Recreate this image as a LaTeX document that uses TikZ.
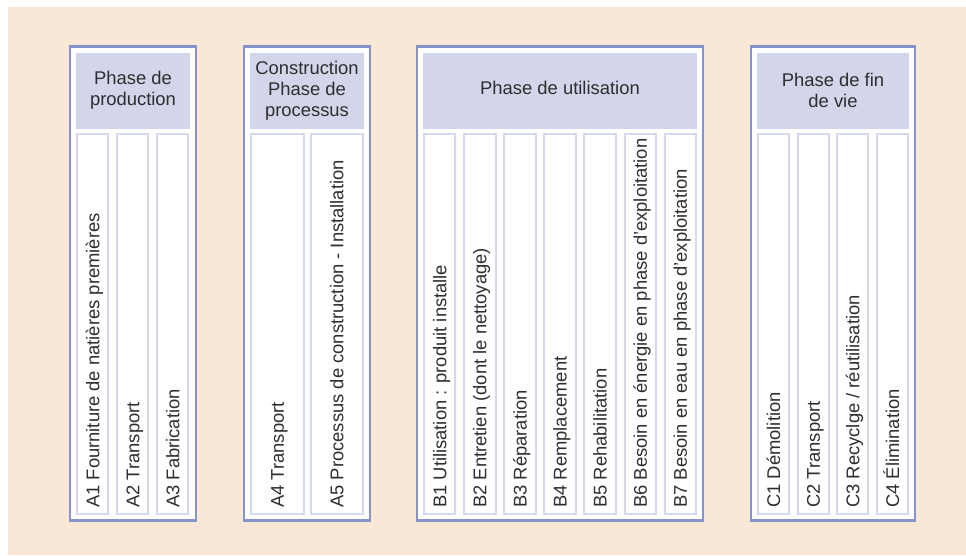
\documentclass[tikz,border=0pt]{standalone}
\usepackage{fontspec}
\setmainfont{Liberation Sans}

\definecolor{bgpeach}{HTML}{FAE8D7}
\definecolor{frameblue}{HTML}{8893C9}
\definecolor{headlav}{HTML}{D3D6EA}
\definecolor{collav}{HTML}{D6D9EE}
\definecolor{inkgray}{HTML}{2E2E2E}

% one white column with a rotated label: name, centre x, width, label
\newcommand{\stagecol}[4]{%
  \node[colbox, minimum width={#3pt-2pt}] (#1) at (#2,323.7) {};
  \node[coltext] (#1-t) at ([xshift=6.6pt,yshift=6.7pt]#1.south) {#4};%
}

\begin{document}
\begin{tikzpicture}[x=1pt,y=-1pt,
  phaseframe/.style={draw=frameblue, line width=2.5pt, fill=white,
    minimum height=474pt, inner sep=0pt},
  headbox/.style={fill=headlav, minimum height=76pt, inner sep=0pt,
    text=inkgray, align=center, font=\fontsize{18.4}{21}\selectfont},
  colbox/.style={draw=collav, line width=2pt, fill=white,
    minimum height=380pt, inner sep=0pt},
  coltext/.style={text=inkgray, rotate=90, anchor=base west, inner sep=0pt,
    font=\fontsize{18.4}{21}\selectfont},
]
\useasboundingbox (0,0) rectangle (966,555);
\fill[bgpeach] (8,7) rectangle (966,555);

% --- Phase de production ---
\node[phaseframe, minimum width=126pt] (prod) at (133,283.7) {};
\node[headbox, minimum width=114pt] (prod-h) at (133,90.7) {Phase de\\production};
\stagecol{a1}{92.65}{33.3}{A1 Fourniture de natières premières}
\stagecol{a2}{132.65}{33.3}{A2 Transport}
\stagecol{a3}{172.65}{33.3}{A3 Fabrication}

% --- Construction ---
\node[phaseframe, minimum width=126pt] (cons) at (307,283.7) {};
\node[headbox, minimum width=114pt] (cons-h) at (307,90.7) {Construction\\Phase de\\processus};
\stagecol{a4}{277.25}{54.5}{A4 Transport}
\stagecol{a5}{336.75}{54.5}{A5 Processus de construction - Installation}

% --- Phase de utilisation ---
\node[phaseframe, minimum width=286pt] (util) at (560,283.7) {};
\node[headbox, minimum width=274pt, text depth=5.5pt] (util-h) at (560,90.7) {Phase de utilisation};
\stagecol{b1}{439.7}{33.4}{B1 Utilisation : produit installe}
\stagecol{b2}{479.8}{33.4}{B2 Entretien (dont le nettoyage)}
\stagecol{b3}{519.9}{33.4}{B3 Réparation}
\stagecol{b4}{560.0}{33.4}{B4 Remplacement}
\stagecol{b5}{600.1}{33.4}{B5 Rehabilitation}
\stagecol{b6}{640.2}{33.4}{B6 Besoin en énergie en phase d’exploitation}
\stagecol{b7}{680.3}{33.4}{B7 Besoin en eau en phase d’exploitation}

% --- Phase de fin de vie ---
\node[phaseframe, minimum width=164pt] (fin) at (833,283.7) {};
\node[headbox, minimum width=152pt] (fin-h) at (833,90.7) {Phase de fin\\de vie};
\stagecol{c1}{773.5}{33}{C1 Démolition}
\stagecol{c2}{813.2}{33}{C2 Transport}
\stagecol{c3}{852.8}{33}{C3 Recyclge / réutilisation}
\stagecol{c4}{892.5}{33}{C4 Élimination}
\end{tikzpicture}
\end{document}
